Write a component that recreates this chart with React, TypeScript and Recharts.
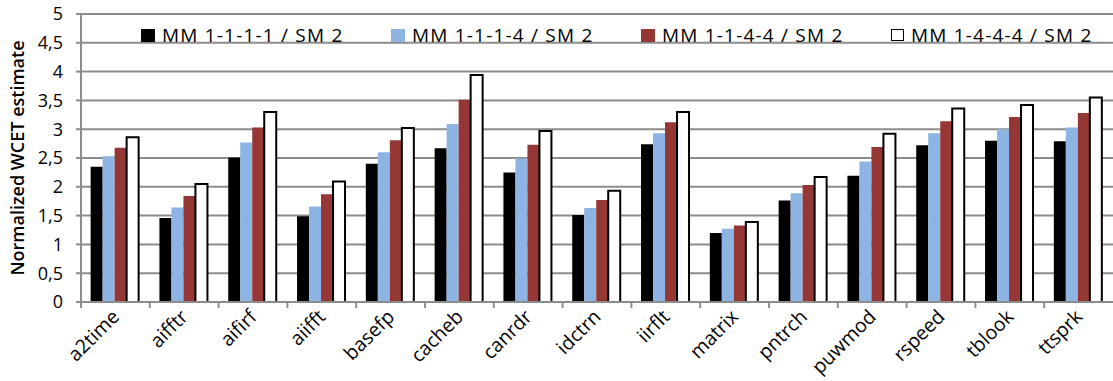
import { BarChart, Bar, XAxis, YAxis, CartesianGrid, Legend, Text } from "recharts";

// Normalized WCET estimates per benchmark, four memory/scratchpad configurations
const BENCHMARKS = [
  "a2time", "aifftr", "aifirf", "aiifft", "basefp", "cacheb", "canrdr", "idctrn",
  "iirflt", "matrix", "pntrch", "puwmod", "rspeed", "tblook", "ttsprk",
];
const MM_1111 = [2.35, 1.46, 2.51, 1.49, 2.40, 2.67, 2.25, 1.51, 2.74, 1.20, 1.76, 2.19, 2.72, 2.80, 2.79];
const MM_1114 = [2.53, 1.64, 2.77, 1.66, 2.60, 3.09, 2.49, 1.63, 2.93, 1.27, 1.89, 2.44, 2.93, 3.00, 3.03];
const MM_1144 = [2.68, 1.84, 3.03, 1.87, 2.81, 3.51, 2.73, 1.77, 3.12, 1.33, 2.03, 2.69, 3.14, 3.21, 3.28];
const MM_1444 = [2.86, 2.05, 3.30, 2.09, 3.02, 3.94, 2.97, 1.93, 3.30, 1.39, 2.17, 2.92, 3.36, 3.42, 3.55];
const Y_TICKS = [0, 0.5, 1, 1.5, 2, 2.5, 3, 3.5, 4, 4.5, 5];

const SERIES = [
  { key: "m1111", name: "MM 1-1-1-1 / SM 2", fill: "#000000", stroke: "none" },
  { key: "m1114", name: "MM 1-1-1-4 / SM 2", fill: "#8db4e2", stroke: "none" },
  { key: "m1144", name: "MM 1-1-4-4 / SM 2", fill: "#953735", stroke: "none" },
  { key: "m1444", name: "MM 1-4-4-4 / SM 2", fill: "#ffffff", stroke: "#000000" },
];

const data = BENCHMARKS.map((name, i) => ({
  name,
  m1111: MM_1111[i],
  m1114: MM_1114[i],
  m1144: MM_1144[i],
  m1444: MM_1444[i],
}));

const FONT = "'Open Sans', 'DejaVu Sans', sans-serif";
const GRID = "#8c8c8c";

// category label at 45°, plus a tick mark on the left category boundary
function BenchTick(props: any) {
  const { x, y, payload } = props;
  const half = payload?.offset ?? 34;
  return (
    <g>
      <line x1={x - half} y1={y - 8} x2={x - half} y2={y - 2} stroke={GRID} strokeWidth={2} />
      <Text
        x={x + 5}
        y={y + 8}
        angle={-45}
        textAnchor="end"
        verticalAnchor="end"
        fontFamily={FONT}
        fontSize={19.5}
        fill="#000"
      >
        {payload.value}
      </Text>
    </g>
  );
}

function LegendRow() {
  return (
    <div style={{ display: "flex", fontFamily: FONT, fontSize: 19, lineHeight: "20px", color: "#000" }}>
      {SERIES.map((s) => (
        <div key={s.key} style={{ width: 250, display: "flex", alignItems: "center" }}>
          <span
            style={{
              display: "inline-block",
              width: s.stroke === "none" ? 14 : 11,
              height: s.stroke === "none" ? 13 : 10,
              background: s.fill,
              border: s.stroke === "none" ? "none" : `1.5px solid ${s.stroke}`,
              marginRight: 7,
            }}
          />
          <span style={{ letterSpacing: 1.2 }}>{s.name}</span>
        </div>
      ))}
    </div>
  );
}

export default function App() {
  return (
    <div style={{ position: "absolute", left: 0, top: 0, background: "#fff" }}>
      <BarChart
        width={1113}
        height={381}
        data={data}
        margin={{ top: 14, right: 0, left: 0, bottom: 0 }}
        barCategoryGap="14%"
        barGap={0}
      >
        <CartesianGrid vertical={false} stroke={GRID} strokeWidth={2} />
        <XAxis
          dataKey="name"
          height={79}
          interval={0}
          tickLine={false}
          axisLine={{ stroke: GRID, strokeWidth: 2 }}
          tick={(p: any) => <BenchTick {...p} />}
        />
        <YAxis
          width={81}
          domain={[0, 5]}
          ticks={Y_TICKS}
          interval={0}
          tickSize={5}
          tickMargin={13}
          axisLine={{ stroke: GRID, strokeWidth: 2 }}
          tickLine={{ stroke: GRID, strokeWidth: 2 }}
          tick={{ fontFamily: FONT, fontSize: 18, fill: "#000" }}
          tickFormatter={(v: number) => String(v).replace(".", ",")}
          label={{
            value: "Normalized WCET estimate",
            angle: -90,
            position: "insideLeft",
            offset: 18,
            style: { fontFamily: FONT, fontSize: 18, fontWeight: 600, fill: "#000", textAnchor: "middle" },
          }}
        />
        <Legend
          verticalAlign="middle"
          align="center"
          content={() => <LegendRow />}
          wrapperStyle={{ top: 25, left: 141, width: 1000 }}
        />
        {SERIES.map((s) => (
          <Bar
            key={s.key}
            dataKey={s.key}
            name={s.name}
            fill={s.fill}
            stroke={s.stroke}
            strokeWidth={s.stroke === "none" ? 0 : 2}
            isAnimationActive={false}
          />
        ))}
      </BarChart>
    </div>
  );
}
